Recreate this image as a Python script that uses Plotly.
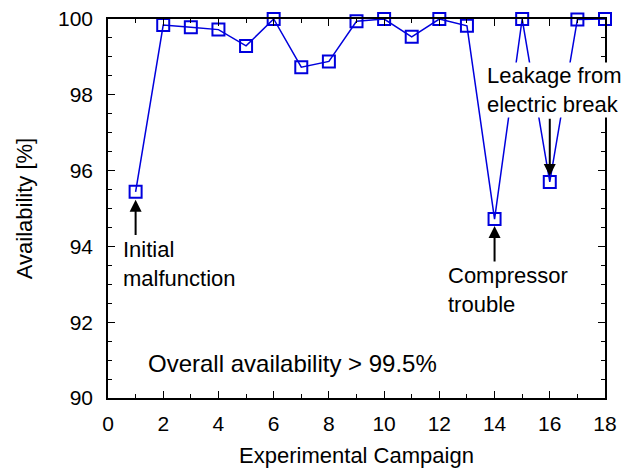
import plotly.graph_objects as go

campaign = list(range(1, 19))
availability = [95.44, 99.84, 99.78, 99.72, 99.29, 100.0, 98.73, 98.88, 99.94,
                100.0, 99.53, 100.0, 99.82, 94.72, 100.0, 95.70, 99.99, 100.0]
x_ticks = [0, 2, 4, 6, 8, 10, 12, 14, 16, 18]
y_ticks = [90, 92, 94, 96, 98, 100]

FONT = "Liberation Sans, Arial, Helvetica, sans-serif"
BLUE = "#0000DD"

fig = go.Figure()
fig.add_trace(go.Scatter(
    x=campaign, y=availability, mode="lines+markers",
    line=dict(color=BLUE, width=1.5),
    marker=dict(symbol="square-open", size=12, color=BLUE, line=dict(width=2, color=BLUE)),
    cliponaxis=False, showlegend=False,
))

def arrow(x, y_tail, y_head):
    fig.add_annotation(x=x, y=y_head, ax=x, ay=y_tail, xref="x", yref="y",
                       axref="x", ayref="y", text="", showarrow=True,
                       arrowhead=2, arrowsize=1.2, arrowwidth=2, arrowcolor="black")

def label(x, y, txt, size=22, bg=None):
    fig.add_annotation(x=x, y=y, xref="x", yref="y", text=txt, showarrow=False,
                       xanchor="left", yanchor="middle", align="left",
                       font=dict(family=FONT, size=size, color="black"),
                       bgcolor=bg, borderpad=0)

arrow(1, 94.26, 95.23)
arrow(14, 93.56, 94.54)
arrow(16, 97.41, 95.86)

label(0.51, 93.54, "Initial<br>malfunction")
label(12.27, 92.84, "Compressor<br>trouble")
label(13.68, 98.13, "Leakage from<br>electric break", bg="white")
label(1.4, 90.90, "Overall availability &gt; 99.5%", size=24)

axis_common = dict(showline=True, linecolor="black", linewidth=1.5, mirror="allticks",
                   ticks="inside", tickcolor="black", tickwidth=1.2, ticklen=7,
                   showgrid=False, zeroline=False, automargin=False,
                   tickfont=dict(family=FONT, size=21, color="black"))

fig.update_xaxes(range=[0, 18], tickvals=x_ticks, ticktext=[str(v) for v in x_ticks],
                 minor=dict(dtick=1, tick0=0, ticks="inside", ticklen=4, tickcolor="black", tickwidth=1.2),
                 title=dict(text="Experimental Campaign", font=dict(family=FONT, size=22, color="black"), standoff=14),
                 ticklabelstandoff=6, **axis_common)
fig.update_yaxes(range=[90, 100], tickvals=y_ticks, ticktext=[str(v) for v in y_ticks],
                 minor=dict(dtick=0.5, tick0=90, ticks="inside", ticklen=4, tickcolor="black", tickwidth=1.2),
                 title=dict(text="Availability [%]", font=dict(family=FONT, size=22, color="black"), standoff=19),
                 ticklabelstandoff=9, **axis_common)

fig.update_layout(width=634, height=470, margin=dict(l=108, r=29, t=19, b=72),
                  plot_bgcolor="white", paper_bgcolor="white",
                  font=dict(family=FONT, color="black"))

fig.write_html("out.html")
